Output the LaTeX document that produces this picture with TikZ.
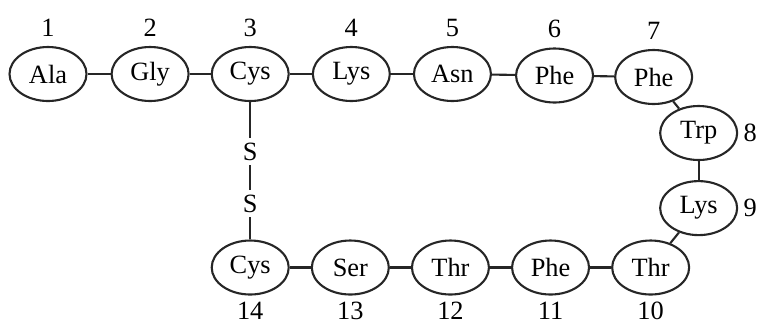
\documentclass[tikz,border=0pt]{standalone}
\usepackage{fontspec}
\setmainfont{Liberation Serif}
\usetikzlibrary{shapes.geometric, positioning}
\newcommand{\resfont}{\fontsize{15}{18}\selectfont}
\tikzset{
    residue/.style={draw, ellipse, minimum width=1.54cm, minimum height=1.08cm, inner sep=0pt, line width=1.2pt, draw=black!85, font=\resfont},
    sulfur/.style={inner sep=2.5pt, font=\resfont},
    index/.style={inner sep=0pt, font=\resfont},
    bond/.style={line width=1.2pt, draw=black!85}
}

\begin{document}
\begin{tikzpicture}[node distance=0.46cm and 0.46cm, label distance=0.18cm, every label/.style={index}]
        \useasboundingbox (0,0) rectangle (15.2,-6.54);

        % Catena superiore
        \node (ala) [residue, label=above:1] at (0.96,-1.48) {Ala};
        \node (gly) [residue, right=of ala, label=above:2] {Gly};
        \node (cysa) [residue, right=0.42cm of gly, label=above:3] {Cys};
        \node (lysa) [residue, right=0.44cm of cysa, label=above:4] {Lys};
        \node (asn) [residue, right=0.44cm of lysa, label=above:5] {Asn};
        \node (phea) [residue, right=of asn, yshift=-0.03cm, label=above:6] {Phe};
        \node (pheb) [residue, right=0.4cm of phea, yshift=-0.03cm, label=above:7] {Phe};

        % Ansa a destra
        \node (trp) [residue, label={[label distance=0.1cm]right:8}] at ([xshift=0.9cm, yshift=-1.12cm]pheb) {Trp};
        \node (lysb) [residue, below=0.38cm of trp, label={[label distance=0.1cm]right:9}] {Lys};

        % Ponte disolfuro
        \node (sa) [sulfur, below=0.72cm of cysa] {S};
        \node (sb) [sulfur, below=0.5cm of sa] {S};

        % Catena inferiore
        \node (cysb) [residue, below=0.44cm of sb, label={[label distance=0.12cm]below:14}] {Cys};
        \node (ser) [residue, right=0.42cm of cysb, label={[label distance=0.12cm]below:13}] {Ser};
        \node (thra) [residue, right=0.42cm of ser, label={[label distance=0.12cm]below:12}] {Thr};
        \node (phec) [residue, right=0.42cm of thra, label={[label distance=0.12cm]below:11}] {Phe};
        \node (thrb) [residue, right=0.42cm of phec, label={[label distance=0.12cm]below:10}] {Thr};

        % Legami peptidici
        \draw [bond] (ala) -- (gly);
        \draw [bond] (gly) -- (cysa);
        \draw [bond] (cysa) -- (lysa);
        \draw [bond] (lysa) -- (asn);
        \draw [bond] (asn) -- (phea);
        \draw [bond] (phea) -- (pheb);
        \draw [bond] (pheb) -- (trp);
        \draw [bond] (trp) -- (lysb);
        \draw [bond] (lysb) -- (thrb);
        \draw [bond] (thrb) -- (phec);
        \draw [bond] (phec) -- (thra);
        \draw [bond] (thra) -- (ser);
        \draw [bond] (ser) -- (cysb);

        % Legame S-S
        \draw [bond] (cysa) -- (sa);
        \draw [bond] (sa) -- (sb);
        \draw [bond] (sb) -- (cysb);

    \end{tikzpicture}
\end{document}
